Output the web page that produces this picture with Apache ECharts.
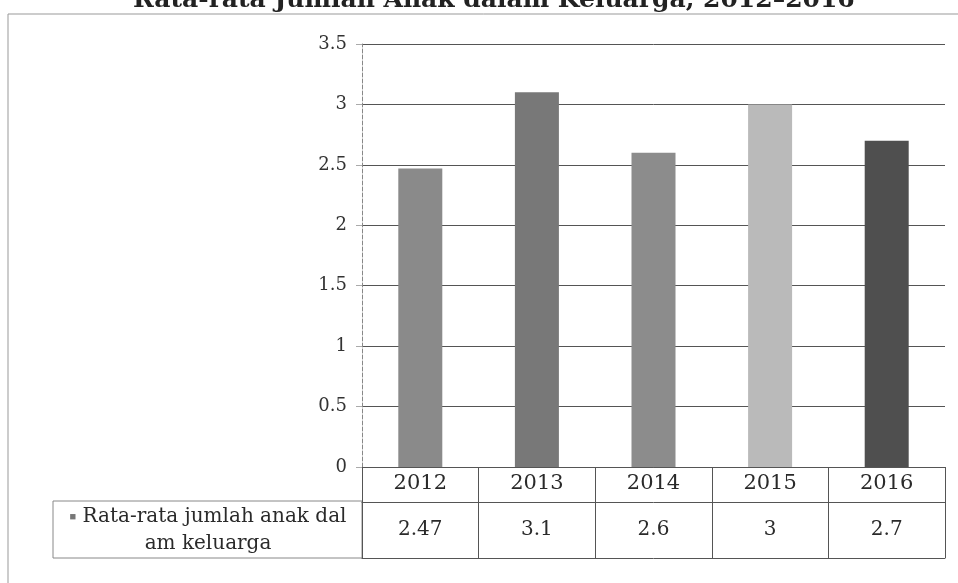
<!DOCTYPE html>
<html lang="id">
<head>
    <meta charset="utf-8"/>
    <script src="https://cdn.jsdelivr.net/npm/echarts@6/dist/echarts.min.js"></script>
</head>
<body style="margin: 0; background: #fff">
<div id="container" style="width: 958px;height:583px;"></div>
<script type="text/javascript">
    // data
    var years = ['2012', '2013', '2014', '2015', '2016'];
    var avgChildren = [2.47, 3.1, 2.6, 3, 2.7];
    var yTicks = [0, 0.5, 1, 1.5, 2, 2.5, 3, 3.5];
    var seriesName = 'Rata-rata jumlah anak dalam keluarga';

    var barColors = ['#8a8a8a', '#787878', '#8c8c8c', '#bababa', '#4f4f4f'];
    var serif = '"DejaVu Serif", "Liberation Serif", serif';

    var myChart = echarts.init(document.getElementById('container'));

    var option = {
        animation: false,
        backgroundColor: '#fff',
        title: {
            text: 'Rata-rata Jumlah Anak dalam Keluarga, 2012–2016',
            left: 128,
            top: -17,
            textStyle: {fontFamily: serif, fontSize: 25, fontWeight: 'bold', color: '#222'}
        },
        grid: {left: 362, right: 13, top: 44, bottom: 116},
        yAxis: {
            type: 'value',
            min: yTicks[0],
            max: yTicks[yTicks.length - 1],
            interval: 0.5,
            axisLine: {show: true, lineStyle: {color: '#888', type: 'dashed'}},
            axisTick: {show: true, length: 6, lineStyle: {color: '#aaa'}},
            axisLabel: {margin: 15, fontFamily: serif, fontSize: 18, color: '#333'},
            splitLine: {lineStyle: {color: '#555', width: 1}}
        },
        xAxis: [
            {
                type: 'category',
                data: years,
                position: 'bottom',
                axisLine: {lineStyle: {color: '#555'}},
                axisTick: {show: true, interval: 0, length: 91, lineStyle: {color: '#555'}},
                axisLabel: {margin: 6, fontFamily: serif, fontSize: 21, color: '#2a2a2a'}
            },
            {
                type: 'category',
                data: avgChildren.map(String),
                position: 'bottom',
                offset: 35,
                axisLine: {lineStyle: {color: '#555'}},
                axisTick: {show: false},
                axisLabel: {margin: 18, fontFamily: serif, fontSize: 20, color: '#2a2a2a'}
            },
            {
                type: 'category',
                data: years,
                position: 'bottom',
                offset: 91,
                axisLine: {lineStyle: {color: '#555'}},
                axisTick: {show: false},
                axisLabel: {show: false}
            }
        ],
        series: [{
            name: seriesName,
            type: 'bar',
            xAxisIndex: 0,
            barWidth: 44,
            data: avgChildren.map(function (v, i) {
                return {value: v, itemStyle: {color: barColors[i]}};
            })
        }],
        graphic: [
            {
                type: 'rect',
                shape: {x: 8, y: 14, width: 980, height: 600},
                style: {fill: 'none', stroke: '#999', lineWidth: 1},
                silent: true
            },
            {
                type: 'rect',
                shape: {x: 53, y: 501, width: 309, height: 57},
                style: {fill: 'none', stroke: '#888', lineWidth: 1},
                silent: true
            },
            {
                type: 'text',
                x: 208, y: 503,
                style: {
                    text: '{m|■} Rata-rata jumlah anak dal\nam keluarga',
                    font: '20px ' + serif,
                    fill: '#2a2a2a',
                    align: 'center',
                    verticalAlign: 'top',
                    lineHeight: 27,
                    rich: {m: {fontSize: 11, fill: '#777', lineHeight: 27}}
                },
                silent: true
            }
        ]
    };

    myChart.setOption(option);
</script>
</body>
</html>
